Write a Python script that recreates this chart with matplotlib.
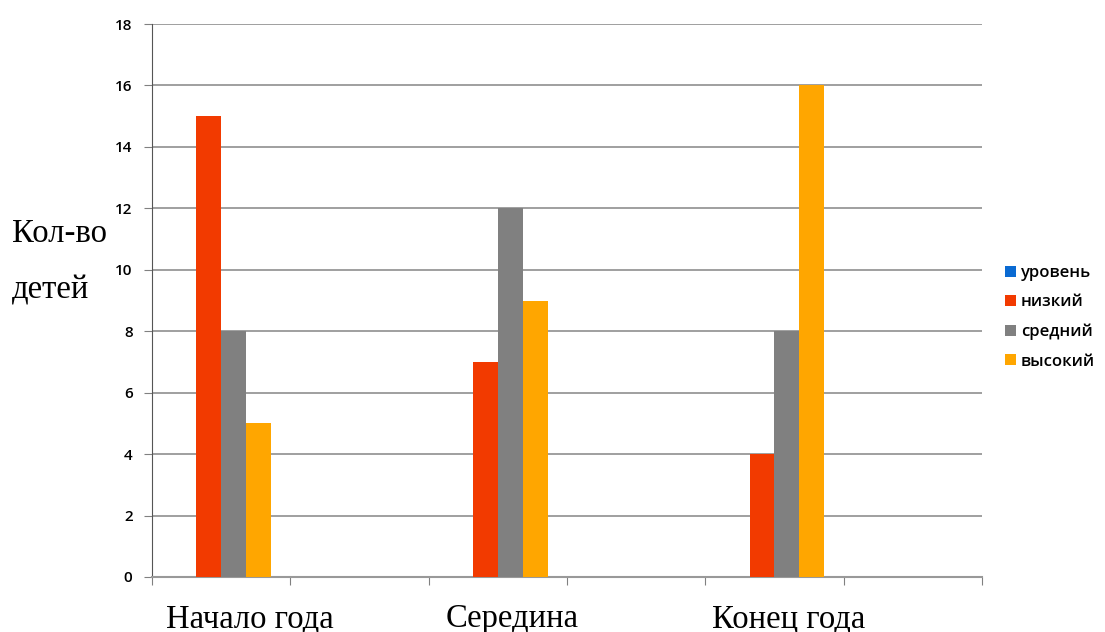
import numpy as np
import matplotlib
matplotlib.use("Agg")
import matplotlib.pyplot as plt

# six slots on the category axis, every other one empty
categories = ["Начало года", "", "Середина", "", "Конец года", ""]
series = ["уровень", "низкий", "средний", "высокий"]
uroven = [0, 0, 0, 0, 0, 0]
nizkiy = [15, 0, 7, 0, 4, 0]
sredniy = [8, 0, 12, 0, 8, 0]
vysokiy = [5, 0, 9, 0, 16, 0]
colors = ["#0A6AD2", "#F23A00", "#808080", "#FFA600"]

values = [uroven, nizkiy, sredniy, vysokiy]

fig = plt.figure(figsize=(11.05, 6.32), dpi=100)
ax = fig.add_axes([152/1105, 55/632, 830/1105, 553/632])

x = np.arange(len(categories))
w = 0.18
for k, (name, vals, c) in enumerate(zip(series, values, colors)):
    ax.bar(x + (k - 1.5) * w, vals, width=w, color=c, label=name, linewidth=0, zorder=3)

ax.set_xlim(-0.5, len(categories) - 0.5)
ax.set_ylim(0, 18)
ax.set_yticks(range(0, 19, 2))
ax.set_xticks(np.arange(len(categories) + 1) - 0.5)
ax.set_xticklabels([])
ax.tick_params(axis="x", length=6, color="#808080", direction="out")
ax.tick_params(axis="y", length=6, color="#808080", direction="out", pad=8,
               labelsize=11)
for lab in ax.get_yticklabels():
    lab.set_fontfamily("Open Sans")
    lab.set_fontweight("semibold")

ax.grid(axis="y", color="#858585", linewidth=1.1, zorder=0)
for s in ["top", "right"]:
    ax.spines[s].set_visible(False)
ax.spines["left"].set_color("#555555")
ax.spines["bottom"].set_color("#999999")
ax.spines["bottom"].set_linewidth(1.5)

# category captions, slightly right of the slot centres like in the source
shift = [0.21, 0, 0.1, 0, 0.1, 0]
for i, name in enumerate(categories):
    if name:
        ax.text(i + shift[i], -50/553, name, transform=ax.get_xaxis_transform(),
                ha="center", va="baseline", fontsize=23.5, family="Liberation Serif")

fig.text(12/1105, 1 - 242/632, "Кол-во", fontsize=23.5, family="Liberation Serif",
         ha="left", va="baseline")
fig.text(12/1105, 1 - 298/632, "детей", fontsize=23.5, family="Liberation Serif",
         ha="left", va="baseline")

leg = fig.legend(loc="upper left", bbox_to_anchor=(990/1105, 1 - 250/632),
                 frameon=False, handlelength=0.65, handleheight=0.65,
                 handletextpad=0.3, labelspacing=0.8,
                 prop={"family": "Open Sans", "size": 12, "weight": "semibold"})

fig.savefig("out.png", dpi=100)
